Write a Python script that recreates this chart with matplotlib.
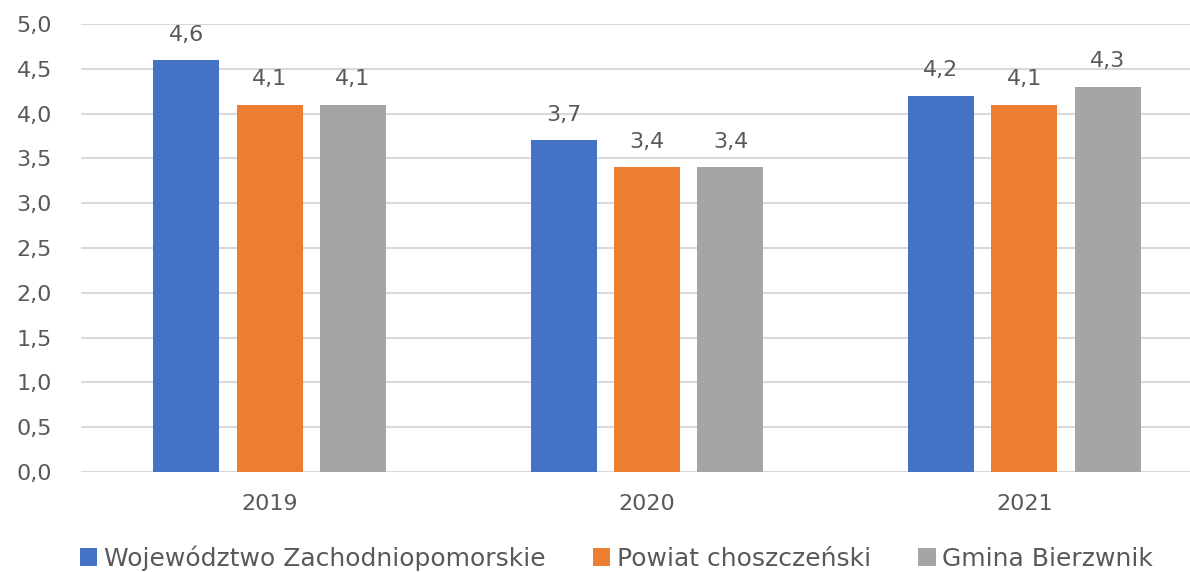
import matplotlib.pyplot as plt
import numpy as np

years = ['2019', '2020', '2021']
series = ['Województwo Zachodniopomorskie', 'Powiat choszczeński', 'Gmina Bierzwnik']
woj = [4.6, 3.7, 4.2]
powiat = [4.1, 3.4, 4.1]
gmina = [4.1, 3.4, 4.3]
colors = ['#4472C4', '#ED7D31', '#A5A5A5']

plt.rcParams['font.family'] = ['DejaVu Sans']
txt = '#595959'

W, H = 1190, 572
fig = plt.figure(figsize=(W / 100, H / 100), dpi=100)
# chart is cut off on the right in the original, so the axes runs past the edge
ax = fig.add_axes([81 / W, 100 / H, (1213 - 81) / W, (548 - 100) / H])

x = np.arange(len(years))
step = 0.221
bw = 0.175
for i, (vals, c) in enumerate(zip([woj, powiat, gmina], colors)):
    pos = x + (i - 1) * step
    ax.bar(pos, vals, bw, color=c, label=series[i], zorder=3)
    for p, v in zip(pos, vals):
        ax.text(p, v + 0.17, f'{v:.1f}'.replace('.', ','), ha='center', va='bottom',
                fontsize=16, color=txt)

ax.set_xlim(-0.5, 2.5)
ax.set_ylim(0, 5)
ax.set_yticks(np.arange(0, 5.01, 0.5))
ax.set_yticklabels([f'{t:.1f}'.replace('.', ',') for t in np.arange(0, 5.01, 0.5)])
ax.set_xticks(x)
ax.set_xticklabels(years)
ax.tick_params(axis='both', length=0, labelsize=16, labelcolor=txt)
ax.tick_params(axis='y', pad=21)
ax.tick_params(axis='x', pad=16)
ax.grid(axis='y', color='#D9D9D9', linewidth=1.5, zorder=0)
for s in ax.spines.values():
    s.set_visible(False)

fig.legend(loc='center', bbox_to_anchor=(0.518, 14 / H), ncol=3, frameon=False,
           fontsize=18, labelcolor=txt, handlelength=0.7, handleheight=0.7,
           handletextpad=0.25, columnspacing=1.9)

fig.savefig('out.png', dpi=100)
